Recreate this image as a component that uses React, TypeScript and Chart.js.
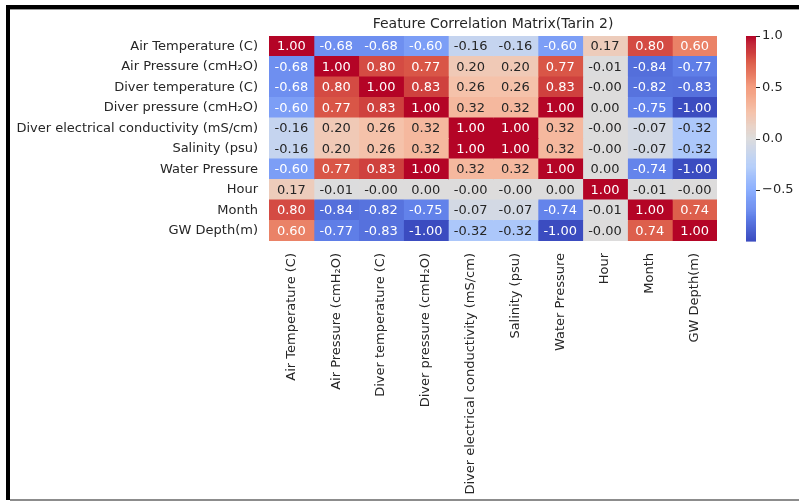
import React, { useEffect, useRef } from "react";
import { Chart, registerables } from "chart.js";

Chart.register(...registerables);

const chartTitle = "Feature Correlation Matrix(Tarin 2)";

const featureLabels = [
  "Air Temperature (C)",
  "Air Pressure (cmH\u2082O)",
  "Diver temperature (C)",
  "Diver pressure (cmH\u2082O)",
  "Diver electrical conductivity (mS/cm)",
  "Salinity (psu)",
  "Water Pressure",
  "Hour",
  "Month",
  "GW Depth(m)",
];

// one row of the correlation matrix per array (column order = featureLabels)
const corrAirTemperature = [1.0, -0.68, -0.68, -0.6, -0.16, -0.16, -0.6, 0.17, 0.8, 0.6];
const corrAirPressure = [-0.68, 1.0, 0.8, 0.77, 0.2, 0.2, 0.77, -0.01, -0.84, -0.77];
const corrDiverTemperature = [-0.68, 0.8, 1.0, 0.83, 0.26, 0.26, 0.83, -0.002, -0.82, -0.83];
const corrDiverPressure = [-0.6, 0.77, 0.83, 1.0, 0.32, 0.32, 1.0, 0.002, -0.75, -1.0];
const corrDiverEC = [-0.16, 0.2, 0.26, 0.32, 1.0, 1.0, 0.32, -0.002, -0.07, -0.32];
const corrSalinity = [-0.16, 0.2, 0.26, 0.32, 1.0, 1.0, 0.32, -0.002, -0.07, -0.32];
const corrWaterPressure = [-0.6, 0.77, 0.83, 1.0, 0.32, 0.32, 1.0, 0.002, -0.74, -1.0];
const corrHour = [0.17, -0.01, -0.002, 0.002, -0.002, -0.002, 0.002, 1.0, -0.01, -0.002];
const corrMonth = [0.8, -0.84, -0.82, -0.75, -0.07, -0.07, -0.74, -0.01, 1.0, 0.74];
const corrGWDepth = [0.6, -0.77, -0.83, -1.0, -0.32, -0.32, -1.0, -0.002, 0.74, 1.0];

const corrMatrix = [
  corrAirTemperature,
  corrAirPressure,
  corrDiverTemperature,
  corrDiverPressure,
  corrDiverEC,
  corrSalinity,
  corrWaterPressure,
  corrHour,
  corrMonth,
  corrGWDepth,
];

const colorbarTicks = [1.0, 0.5, 0.0, -0.5];
const colorbarTickLabels = ["1.0", "0.5", "0.0", "\u22120.5"];
const vMin = -1.0;
const vMax = 1.0;

// coolwarm anchors
const coolwarmAnchors = [
  [59, 76, 192],
  [98, 130, 234],
  [141, 176, 254],
  [184, 208, 249],
  [221, 220, 220],
  [245, 196, 172],
  [244, 154, 123],
  [220, 93, 74],
  [180, 4, 38],
];

const FONT = "'DejaVu Sans', sans-serif";
const TEXT_DARK = "#262626";

function coolwarm(t: number): number[] {
  const tt = Math.max(0, Math.min(1, t));
  const pos = tt * (coolwarmAnchors.length - 1);
  const i = Math.min(coolwarmAnchors.length - 2, Math.floor(pos));
  const f = pos - i;
  const a = coolwarmAnchors[i];
  const b = coolwarmAnchors[i + 1];
  return [0, 1, 2].map((k) => Math.round(a[k] + (b[k] - a[k]) * f));
}

function colorFor(v: number): string {
  const c = coolwarm((v - vMin) / (vMax - vMin));
  return `rgb(${c[0]},${c[1]},${c[2]})`;
}

function luminance(v: number): number {
  const c = coolwarm((v - vMin) / (vMax - vMin)).map((x) => {
    const s = x / 255;
    return s <= 0.03928 ? s / 12.92 : Math.pow((s + 0.055) / 1.055, 2.4);
  });
  return 0.2126 * c[0] + 0.7152 * c[1] + 0.0722 * c[2];
}

function fmt(v: number): string {
  const s = Math.abs(v).toFixed(2);
  return (v < 0 ? "-" : "") + s;
}

const extrasPlugin = {
  id: "heatExtras",
  afterDatasetsDraw(chart: any) {
    const { ctx, chartArea, scales } = chart;
    const xs = scales.x;
    const ys = scales.y;
    ctx.save();
    // cell annotations
    ctx.font = `13px ${FONT}`;
    ctx.textAlign = "center";
    ctx.textBaseline = "middle";
    corrMatrix.forEach((row, i) => {
      row.forEach((v, j) => {
        const cx = xs.getPixelForValue(j + 0.5);
        const cy = ys.getPixelForValue(i);
        ctx.fillStyle = luminance(v) > 0.408 ? TEXT_DARK : "#ffffff";
        ctx.fillText(fmt(v), cx, cy + 0.5);
      });
    });
    // title
    ctx.fillStyle = TEXT_DARK;
    ctx.font = `14px ${FONT}`;
    ctx.textBaseline = "alphabetic";
    ctx.fillText(chartTitle, (chartArea.left + chartArea.right) / 2, chartArea.top - 8);
    // colorbar
    const cbLeft = 746;
    const cbWidth = 10;
    const top = chartArea.top;
    const bottom = chartArea.bottom;
    const steps = 200;
    for (let s = 0; s < steps; s++) {
      const v0 = vMax - ((vMax - vMin) * s) / steps;
      const y0 = top + ((bottom - top) * s) / steps;
      const y1 = top + ((bottom - top) * (s + 1)) / steps;
      ctx.fillStyle = colorFor(v0 - (vMax - vMin) / steps / 2);
      ctx.fillRect(cbLeft, y0, cbWidth, y1 - y0 + 0.6);
    }
    ctx.strokeStyle = TEXT_DARK;
    ctx.lineWidth = 1;
    ctx.font = `13px ${FONT}`;
    ctx.textAlign = "left";
    ctx.textBaseline = "middle";
    ctx.fillStyle = TEXT_DARK;
    colorbarTicks.forEach((t, k) => {
      const y = top + ((vMax - t) / (vMax - vMin)) * (bottom - top);
      const yy = Math.round(y) + 0.5;
      ctx.beginPath();
      ctx.moveTo(cbLeft + cbWidth, yy);
      ctx.lineTo(cbLeft + cbWidth + 4, yy);
      ctx.stroke();
      ctx.fillText(colorbarTickLabels[k], cbLeft + cbWidth + 6, y);
    });
    ctx.restore();
  },
};

export default function App() {
  const canvasRef = useRef<HTMLCanvasElement | null>(null);

  useEffect(() => {
    const canvas = canvasRef.current;
    if (!canvas) return;
    const datasets = featureLabels.map((_, j) => ({
      label: featureLabels[j],
      data: corrMatrix.map(() => [j, j + 1]),
      backgroundColor: corrMatrix.map((row) => colorFor(row[j])),
      borderWidth: 0,
      inflateAmount: 0.5,
      barPercentage: 1,
      categoryPercentage: 1,
      grouped: false,
    }));
    const chart = new Chart(canvas, {
      type: "bar",
      data: { labels: featureLabels, datasets: datasets as any },
      options: {
        animation: false,
        responsive: false,
        maintainAspectRatio: false,
        indexAxis: "y",
        layout: { padding: { left: 0, top: 36, right: 82, bottom: 0 } },
        plugins: {
          legend: { display: false },
          tooltip: { enabled: false },
          title: { display: false },
        },
        scales: {
          y: {
            type: "category",
            labels: featureLabels,
            grid: { display: false, drawTicks: false },
            border: { display: false },
            ticks: {
              padding: 11,
              color: TEXT_DARK,
              autoSkip: false,
              font: { family: FONT, size: 13 },
            },
            afterFit(scale: any) {
              scale.width = 269;
            },
          },
          x: {
            type: "linear",
            min: 0,
            max: 10,
            grid: { display: false, drawTicks: false },
            border: { display: false },
            afterBuildTicks(scale: any) {
              scale.ticks = featureLabels.map((_, i) => ({ value: i + 0.5 }));
            },
            ticks: {
              padding: 12,
              color: TEXT_DARK,
              autoSkip: false,
              minRotation: 90,
              maxRotation: 90,
              font: { family: FONT, size: 13 },
              callback: (value: any) => featureLabels[Math.floor(Number(value))] ?? "",
            },
            afterFit(scale: any) {
              scale.height = 260;
            },
          },
        },
      },
      plugins: [extrasPlugin],
    });
    return () => chart.destroy();
  }, []);

  return (
    <div
      style={{
        position: "fixed",
        left: 0,
        top: 0,
        width: 799,
        height: 501,
        background: "#ffffff",
        overflow: "hidden",
      }}
    >
      <canvas
        ref={canvasRef}
        width={799}
        height={501}
        style={{ position: "absolute", left: 0, top: 0, width: 799, height: 501 }}
      />
      <div style={{ position: "absolute", left: 6, top: 5, width: 793, height: 4, background: "#000" }} />
      <div style={{ position: "absolute", left: 10, top: 9, width: 789, height: 1, background: "#9a9a9a" }} />
      <div style={{ position: "absolute", left: 6, top: 5, width: 4, height: 495, background: "#000" }} />
      <div style={{ position: "absolute", left: 10, top: 499, width: 789, height: 2, background: "#8c8c8c" }} />
    </div>
  );
}
